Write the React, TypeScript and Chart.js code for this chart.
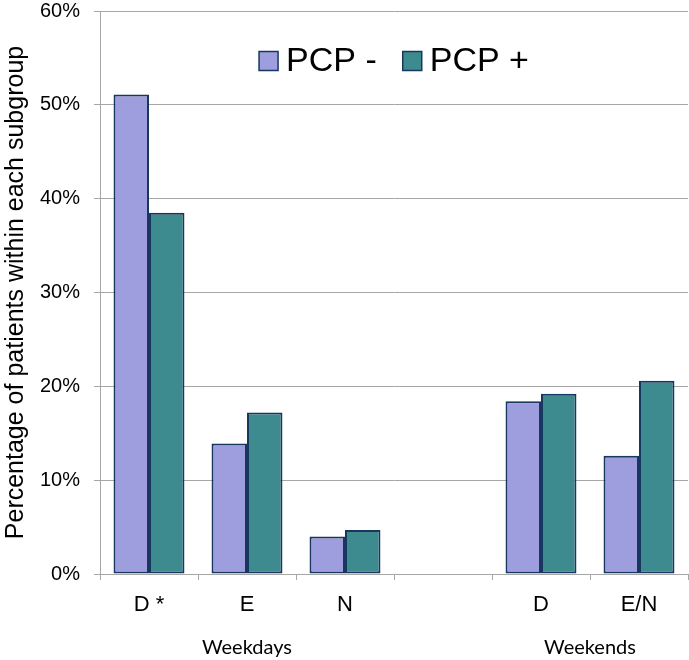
import React, { useEffect, useRef } from "react";
import { Chart, registerables } from "chart.js";

Chart.register(...registerables);

const categories = ["D *", "E", "N", "", "D", "E/N"];
const pcpMinus = [51.1, 13.9, 4.0, null, 18.4, 12.6];
const pcpPlus = [38.5, 17.2, 4.7, null, 19.2, 20.6];
const seriesNames = ["PCP -", "PCP +"];
const groupLabels = ["Weekdays", "Weekends"];
const groupSpans = [
  [0, 2],
  [4, 5],
];
const yTicks = [0, 10, 20, 30, 40, 50, 60];

const FONT = "'Liberation Sans', Arial, sans-serif";
const colors = ["#9e9ede", "#3d8b8f"];
const borderColor = "#17375e";
const gridColor = "#a6a6a6";

const legendPlugin = {
  id: "customLegend",
  afterDraw(chart: any) {
    const { ctx, chartArea } = chart;
    ctx.save();
    ctx.font = `34px ${FONT}`;
    ctx.textBaseline = "middle";
    const box = 19;
    const gap = 8;
    const itemGap = 26;
    const widths = seriesNames.map((n) => ctx.measureText(n).width);
    const total = widths.reduce((a, w) => a + box + gap + w, 0) + itemGap * (seriesNames.length - 1);
    let x = (chartArea.left + chartArea.right) / 2 - total / 2;
    const yc = 61;
    seriesNames.forEach((n, i) => {
      ctx.fillStyle = colors[i];
      ctx.fillRect(x, yc - box / 2, box, box);
      ctx.strokeStyle = borderColor;
      ctx.lineWidth = 1.5;
      ctx.strokeRect(x, yc - box / 2, box, box);
      x += box + gap;
      ctx.fillStyle = "#000";
      ctx.textAlign = "left";
      ctx.fillText(n, x, yc + 1);
      x += widths[i] + itemGap;
    });
    ctx.restore();
  },
};

const groupPlugin = {
  id: "groupLabels",
  afterDraw(chart: any) {
    const { ctx } = chart;
    const xs = chart.scales.x;
    ctx.save();
    ctx.font = `20px Lato, 'Open Sans', sans-serif`;
    ctx.fillStyle = "#000";
    ctx.textAlign = "center";
    ctx.textBaseline = "middle";
    groupLabels.forEach((g, i) => {
      const [a, b] = groupSpans[i];
      const cx = (xs.getPixelForValue(a) + xs.getPixelForValue(b)) / 2;
      ctx.fillText(g, cx, 648);
    });
    ctx.restore();
  },
};

export default function App() {
  const ref = useRef<HTMLCanvasElement>(null);
  useEffect(() => {
    if (!ref.current) return;
    const chart = new Chart(ref.current, {
      type: "bar",
      data: {
        labels: categories,
        datasets: seriesNames.map((name, i) => ({
          label: name,
          data: i === 0 ? pcpMinus : pcpPlus,
          backgroundColor: colors[i],
          borderColor: borderColor,
          borderWidth: 2,
          borderSkipped: false,
          categoryPercentage: 0.724,
          barPercentage: 1,
        })),
      },
      options: {
        animation: false,
        responsive: false,
        maintainAspectRatio: false,
        layout: { padding: { top: 11, right: 1, left: 0, bottom: 0 } },
        plugins: {
          legend: { display: false },
          tooltip: { enabled: false },
        },
        scales: {
          x: {
            offset: true,
            grid: {
              offset: true,
              drawOnChartArea: false,
              drawTicks: true,
              tickLength: 6,
              color: gridColor,
            },
            border: { color: gridColor, width: 1 },
            ticks: {
              color: "#000",
              font: { family: FONT, size: 22 },
              padding: 12,
              maxRotation: 0,
            },
            afterFit: (s: any) => {
              s.height = 86;
              s.paddingLeft = 0;
              s.paddingRight = 0;
            },
          },
          y: {
            min: 0,
            max: 60,
            afterBuildTicks: (s: any) => {
              s.ticks = yTicks.map((v) => ({ value: v }));
            },
            grid: {
              color: gridColor,
              drawTicks: true,
              tickLength: 6,
            },
            border: { color: gridColor, width: 1 },
            ticks: {
              color: "#000",
              font: { family: FONT, size: 20 },
              padding: 14,
              callback: (v: any) => `${v}%`,
            },
            title: {
              display: true,
              text: "Percentage of patients within each subgroup",
              color: "#000",
              font: { family: FONT, size: 25 },
              padding: { top: 1, bottom: 0 },
            },
            afterFit: (s: any) => {
              s.width = 100;
              s.paddingTop = 0;
              s.paddingBottom = 0;
            },
          },
        },
      },
      plugins: [legendPlugin, groupPlugin],
    });
    return () => chart.destroy();
  }, []);
  return (
    <div style={{ position: "fixed", left: 0, top: 0, width: 689, height: 660, background: "#fff" }}>
      <canvas ref={ref} width={689} height={660} style={{ width: 689, height: 660 }} />
    </div>
  );
}
